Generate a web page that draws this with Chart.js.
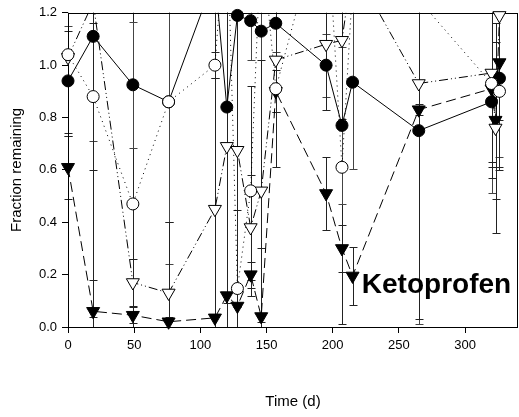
<!DOCTYPE html>
<html>
<head>
<meta charset="utf-8">
<script src="https://cdn.jsdelivr.net/npm/chart.js@4.4.1/dist/chart.umd.min.js"></script>
<style>
    html, body { margin: 0; padding: 0; background: #fff; }
</style>
</head>
<body>
<canvas id="myChart" width="519" height="417"></canvas>
<script>
// sampling days (d)
var days = [0, 19, 49, 76, 111, 120, 128, 138, 146, 157, 195, 207, 215, 265, 320, 323, 326];

// fraction remaining, one list per series (null = not sampled)
var filled_circle = [0.94, 1.11, 0.925, 0.86, 1.34, 0.84, 1.19, 1.17, 1.13, 1.16, 1.00, 0.77, 0.935, 0.75, 0.86, null, 0.95];
var open_circle = [1.04, 0.88, 0.47, 0.86, 1.00, 1.60, 0.147, 0.52, 1.50, 0.91, 1.63, 0.61, 1.30, 1.25, 0.93, null, 0.90];
var open_triangle = [1.03, 1.24, 0.17, 0.13, 0.45, 0.69, 0.675, 0.38, 0.52, 1.02, 1.08, 1.095, 1.38, 0.93, 0.97, 0.76, 1.19];
var filled_triangle = [0.61, 0.06, 0.045, 0.02, 0.035, 0.12, 0.08, 0.20, 0.04, 0.90, 0.51, 0.30, 0.195, 0.83, 0.91, 0.79, 1.01];

// +/- error for each point
var filled_circle_err = [0.21, 0.40, 0.24, 0.62, 0, 0.90, 1.20, 0.15, 1.20, 0.11, 0.12, 0.30, 0.33, 0.74, 0.35, null, 0.30];
var open_circle_err = [0.30, 0.28, 0.75, 0.46, 0.05, 0, 0.30, 0.40, 0, 0.30, 0, 0.60, 0, 0, 0.30, null, 0.30];
var open_triangle_err = [0.10, 1.20, 0.09, 0.27, 0.50, 0.60, 0.60, 0.20, 0.50, 0.20, 0.25, 0.30, 0, 0.90, 0.40, 0.40, 0.40];
var filled_triangle_err = [0.12, 0.12, 0.03, 0.02, 1.20, 1.10, 1.20, 0.05, 0.26, 0.08, 0.14, 0.09, 0.11, 0.02, 0.30, 0.30, 0.40];

var y_ticks = [0, 0.2, 0.4, 0.6, 0.8, 1.0, 1.2];
var x_ticks = [0, 50, 100, 150, 200, 250, 300];

var compound = 'Ketoprofen';
var compound_at = {x: 222, y: 0.13};

Chart.defaults.font.family = "'Liberation Sans', Arial, sans-serif";
Chart.defaults.font.size = 13;
Chart.defaults.color = '#000';

function toPoints(vals) {
    var pts = [];
    for (let i = 0; i < days.length; i++) {
        if (vals[i] !== null) pts.push({x: days[i], y: vals[i]});
    }
    return pts;
}

// listed top-most first
const series = [
    {vals: open_circle, err: open_circle_err, style: 'circle', radius: 6, fill: '#fff', rot: 0, dash: [1, 4], errColor: '#222'},
    {vals: filled_circle, err: filled_circle_err, style: 'circle', radius: 6, fill: '#000', rot: 0, dash: [], errColor: '#444'},
    {vals: open_triangle, err: open_triangle_err, style: 'triangle', radius: 7.5, fill: '#fff', rot: 180, dash: [9, 3, 1, 3, 1, 3], errColor: '#222'},
    {vals: filled_triangle, err: filled_triangle_err, style: 'triangle', radius: 7.5, fill: '#000', rot: 180, dash: [10, 5], errColor: '#222'}
];

var datasets = [];
series.forEach(function (s) {
    // marker layer, not clipped so points near the frame stay whole
    datasets.push({
        data: toPoints(s.vals),
        showLine: false,
        pointStyle: s.style,
        pointRotation: s.rot,
        pointRadius: function (c) { return c.raw && c.raw.y > 1.2 ? 0 : s.radius; },
        pointBackgroundColor: s.fill,
        pointBorderColor: '#000',
        pointBorderWidth: 1,
        clip: false,
        order: 1
    });
});
series.forEach(function (s) {
    // connecting lines, clipped at the frame
    datasets.push({
        data: toPoints(s.vals),
        showLine: true,
        borderColor: '#000',
        borderWidth: 1,
        borderDash: s.dash,
        pointRadius: 0,
        fill: false,
        tension: 0,
        clip: 0,
        order: 2
    });
});

const errorBars = {
    id: 'errorBars',
    beforeDatasetsDraw(chart) {
        const ctx = chart.ctx, xs = chart.scales.x, ys = chart.scales.y, area = chart.chartArea;
        ctx.save();
        ctx.beginPath();
        ctx.rect(area.left - 8, area.top, area.right - area.left + 16, area.bottom - area.top);
        ctx.clip();
        ctx.lineWidth = 1;
        series.forEach(function (s) {
            ctx.strokeStyle = s.errColor;
            for (let i = 0; i < days.length; i++) {
                if (s.vals[i] === null || !s.err[i]) continue;
                const px = Math.round(xs.getPixelForValue(days[i])) + 0.5;
                const top = Math.round(ys.getPixelForValue(s.vals[i] + s.err[i])) + 0.5;
                const bot = Math.round(ys.getPixelForValue(s.vals[i] - s.err[i])) + 0.5;
                ctx.beginPath();
                ctx.moveTo(px, top); ctx.lineTo(px, bot);
                ctx.moveTo(px - 4, top); ctx.lineTo(px + 4, top);
                ctx.moveTo(px - 4, bot); ctx.lineTo(px + 4, bot);
                ctx.stroke();
            }
        });
        ctx.restore();
    }
};

const frame = {
    id: 'frame',
    beforeDatasetsDraw(chart) {
        const ctx = chart.ctx, a = chart.chartArea;
        ctx.save();
        ctx.strokeStyle = '#000';
        ctx.lineWidth = 1;
        ctx.strokeRect(Math.round(a.left) + 0.5, Math.round(a.top) + 0.5,
            Math.round(a.right - a.left) - 1, Math.round(a.bottom - a.top));
        ctx.restore();
    }
};

const compoundLabel = {
    id: 'compoundLabel',
    afterDatasetsDraw(chart) {
        const ctx = chart.ctx;
        ctx.save();
        ctx.font = "bold 28px 'Liberation Sans', Arial, sans-serif";
        ctx.fillStyle = '#000';
        ctx.textAlign = 'left';
        ctx.textBaseline = 'alphabetic';
        ctx.fillText(compound, chart.scales.x.getPixelForValue(compound_at.x), chart.scales.y.getPixelForValue(compound_at.y));
        ctx.restore();
    }
};

var config = {
    type: 'scatter',
    data: {datasets: datasets},
    options: {
        responsive: false,
        animation: false,
        events: [],
        layout: {autoPadding: false, padding: {top: 9, right: 1, bottom: 0, left: 0}},
        plugins: {legend: {display: false}, tooltip: {enabled: false}},
        scales: {
            x: {
                type: 'linear',
                min: 0,
                max: 340,
                afterFit: function (scale) { scale.height = 90; },
                afterBuildTicks: function (scale) { scale.ticks = x_ticks.map(v => ({value: v})); },
                border: {display: false},
                grid: {drawOnChartArea: false, drawTicks: true, tickLength: 6, color: '#000'},
                ticks: {color: '#000', padding: 5, maxRotation: 0, font: {size: 13}},
                title: {display: true, text: 'Time (d)', color: '#000', font: {size: 15}, padding: {top: 0, bottom: 6}}
            },
            y: {
                type: 'linear',
                min: 0,
                max: 1.2,
                afterFit: function (scale) { scale.width = 68; },
                afterBuildTicks: function (scale) { scale.ticks = y_ticks.map(v => ({value: v})); },
                border: {display: false},
                grid: {drawOnChartArea: false, drawTicks: true, tickLength: 6, color: '#000'},
                ticks: {color: '#000', padding: 5, font: {size: 13}, callback: v => v.toFixed(1)},
                title: {display: true, text: 'Fraction remaining', color: '#000', font: {size: 15}, padding: {top: 8, bottom: 0}}
            }
        }
    },
    plugins: [errorBars, frame, compoundLabel]
};

var myChart = new Chart(document.getElementById('myChart'), config);
</script>
</body>
</html>
